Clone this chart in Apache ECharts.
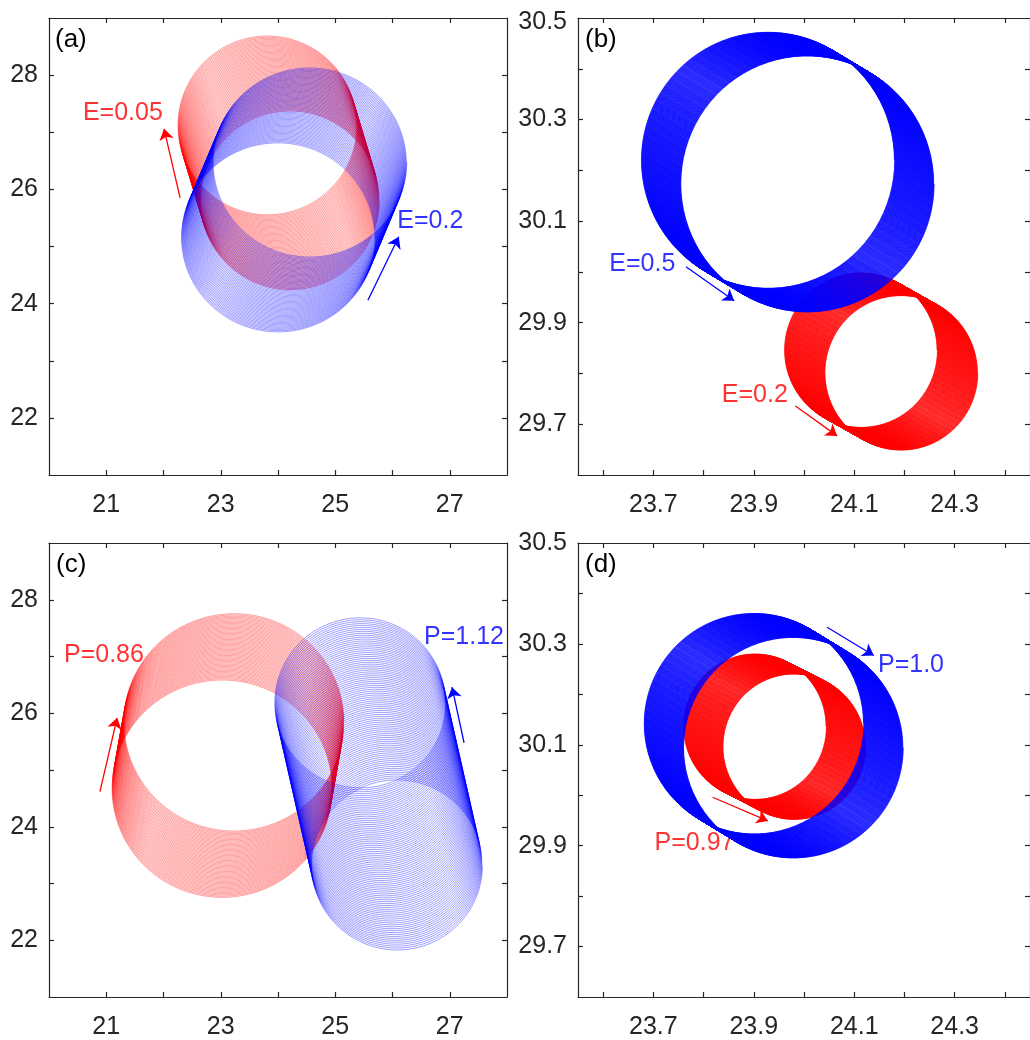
<!DOCTYPE html>
<html><head><meta charset="utf-8">
<script src="https://cdn.jsdelivr.net/npm/echarts@6/dist/echarts.min.js"></script>
<style>html,body{margin:0;padding:0;background:#fff}#c{width:1030px;height:1040px}</style>
</head><body><div id="c"></div>
<script>
// ---------- axis ranges / ticks / labels ----------
const xRangeAC = [20, 28], yRangeAC = [21, 29];
const xRangeBD = [23.55, 24.45], yRangeBD = [29.6, 30.5];
const xTicksAC = [21, 22, 23, 24, 25, 26, 27];
const xLabelsAC = [21, 23, 25, 27];
const yTicksAC = [22, 23, 24, 25, 26, 27, 28];
const yLabelsAC = [22, 24, 26, 28];
const xTicksBD = [23.6, 23.7, 23.8, 23.9, 24.0, 24.1, 24.2, 24.3, 24.4];
const xLabelsBD = [23.7, 23.9, 24.1, 24.3];
const yTicksBD = [29.7, 29.8, 29.9, 30.0, 30.1, 30.2, 30.3, 30.4];
const yLabelsBD = [29.7, 29.9, 30.1, 30.3, 30.5];
const panelTags = ['(a)', '(b)', '(c)', '(d)'];

// ---------- drifting-orbit read values: [first loop centre], [last loop centre], [x radius, y radius], loop count ----------
const aRedStart = [23.81, 27.13], aRedEnd = [24.21, 25.80], aRedRadius = [1.56, 1.56], aRedLoops = 65;
const aBlueStart = [24.00, 25.15], aBlueEnd = [24.56, 26.48], aBlueRadius = [1.69, 1.66], aBlueLoops = 65;
const bBlueStart = [23.928, 30.220], bBlueEnd = [24.007, 30.173], bBlueRadius = [0.252, 0.252], bBlueLoops = 110;
const bRedStart = [24.113, 29.846], bRedEnd = [24.194, 29.801], bRedRadius = [0.152, 0.152], bRedLoops = 110;
const cRedStart = [23.23, 25.85], cRedEnd = [23.02, 24.66], cRedRadius = [1.92, 1.91], cRedLoops = 55;
const cBlueStart = [25.43, 26.20], cBlueEnd = [26.08, 23.31], cBlueRadius = [1.49, 1.49], cBlueLoops = 85;
const dBlueStart = [23.900, 30.142], dBlueEnd = [23.979, 30.094], dBlueRadius = [0.2185, 0.2185], dBlueLoops = 110;
const dRedStart = [23.902, 30.136], dRedEnd = [23.981, 30.096], dRedRadius = [0.142, 0.144], dRedLoops = 110;

// ---------- annotation texts and arrows ----------
const labelTexts = [['E=0.05', 'E=0.2'], ['E=0.5', 'E=0.2'], ['P=0.86', 'P=1.12'], ['P=1.0', 'P=0.97']];
const labelColors = [['red', 'blue'], ['blue', 'red'], ['red', 'blue'], ['blue', 'red']];
const labelPos = [[[21.29, 27.34], [26.66, 25.45]], [[23.678, 30.016], [23.902, 29.757]],
                  [[20.96, 27.02], [27.25, 27.35]], [[24.213, 30.258], [23.782, 29.905]]];
const arrowRed = [[[22.29, 25.85], [22.01, 27.06]], [[23.983, 29.736], [24.066, 29.677]],
                  [[20.89, 24.62], [21.19, 25.92]], [[23.818, 29.996], [23.928, 29.949]]];
const arrowBlue = [[[25.57, 24.06], [26.11, 25.17]], [[23.765, 30.010], [23.861, 29.943]],
                   [[27.25, 25.48], [27.04, 26.46]], [[24.046, 30.333], [24.139, 30.277]]];

const FONT = '"Liberation Sans", Arial, Helvetica, sans-serif';
const AX = '#262626';
const RED = '#ff0000', BLUE = '#0000ff';

function orbitPath(start, end, radius, loops) {
  const perLoop = 90, total = loops * perLoop, pts = [];
  for (let k = 0; k <= total; k++) {
    const s = k / total, th = 2 * Math.PI * k / perLoop;
    pts.push([start[0] + (end[0] - start[0]) * s + radius[0] * Math.cos(th),
              start[1] + (end[1] - start[1]) * s + radius[1] * Math.sin(th)]);
  }
  return pts;
}

const grids = [
  { left: 49, top: 18, width: 458, height: 457 },
  { left: 578, top: 18, width: 457, height: 457 },
  { left: 49, top: 543, width: 458, height: 457 },
  { left: 578, top: 543, width: 457, height: 457 }
];

function mkAxis(g, pos, range, ticks, labels, showLab, dec, margin, shiftTop) {
  return {
    type: 'value', gridIndex: g, position: pos, min: range[0], max: range[1],
    axisLine: { show: true, onZero: false, lineStyle: { color: AX, width: 1.2 } },
    axisTick: { show: true, inside: true, length: 5, customValues: ticks, lineStyle: { color: AX, width: 1.2 } },
    axisLabel: { show: showLab, customValues: labels, margin: margin, color: AX, fontSize: 25, fontFamily: FONT,
                 formatter: v => (shiftTop && Math.abs(v - range[1]) < 1e-9) ? '{t|' + Number(v).toFixed(dec) + '}' : Number(v).toFixed(dec),
                 rich: { t: { fontSize: 25, fontFamily: FONT, color: AX, padding: [8, 0, 0, 0] } } },
    splitLine: { show: false }
  };
}

const xAxes = [], yAxes = [];
grids.forEach((gr, i) => {
  const ac = (i === 0 || i === 2);
  const xr = ac ? xRangeAC : xRangeBD, yr = ac ? yRangeAC : yRangeBD;
  const xt = ac ? xTicksAC : xTicksBD, yt = ac ? yTicksAC : yTicksBD;
  const xl = ac ? xLabelsAC : xLabelsBD, yl = ac ? yLabelsAC : yLabelsBD;
  const dec = ac ? 0 : 1;
  xAxes.push(mkAxis(i, 'bottom', xr, xt, xl, true, dec, 18, false));
  xAxes.push(mkAxis(i, 'top', xr, xt, xl, false, dec, 18, false));
  yAxes.push(mkAxis(i, 'left', yr, yt, yl, true, dec, 11, i === 1));
  yAxes.push(mkAxis(i, 'right', yr, yt, yl, false, dec, 11, false));
});

const orbitSets = [
  [[aRedStart, aRedEnd, aRedRadius, aRedLoops, RED], [aBlueStart, aBlueEnd, aBlueRadius, aBlueLoops, BLUE]],
  [[bRedStart, bRedEnd, bRedRadius, bRedLoops, RED], [bBlueStart, bBlueEnd, bBlueRadius, bBlueLoops, BLUE]],
  [[cRedStart, cRedEnd, cRedRadius, cRedLoops, RED], [cBlueStart, cBlueEnd, cBlueRadius, cBlueLoops, BLUE]],
  [[dRedStart, dRedEnd, dRedRadius, dRedLoops, RED], [dBlueStart, dBlueEnd, dBlueRadius, dBlueLoops, BLUE]]
];

const series = [];
orbitSets.forEach((set, i) => {
  const light = (i === 0 || i === 2);
  set.forEach(o => {
    series.push({
      type: 'line', xAxisIndex: 2 * i, yAxisIndex: 2 * i, data: orbitPath(o[0], o[1], o[2], o[3]),
      showSymbol: false, symbol: 'none', silent: true, animation: false, clip: true,
      lineStyle: { color: o[4], width: light ? 0.5 : 0.8, opacity: light ? 0.75 : 0.9 }
    });
  });
  series.push({
    type: 'lines', coordinateSystem: 'cartesian2d', xAxisIndex: 2 * i, yAxisIndex: 2 * i,
    silent: true, animation: false, symbol: ['none', 'arrow'], symbolSize: 11,
    data: [
      { coords: arrowRed[i], lineStyle: { color: RED, width: 1.3 }, itemStyle: { color: RED } },
      { coords: arrowBlue[i], lineStyle: { color: BLUE, width: 1.3 }, itemStyle: { color: BLUE } }
    ],
    lineStyle: { opacity: 1, curveness: 0 }
  });
  series.push({
    type: 'scatter', xAxisIndex: 2 * i, yAxisIndex: 2 * i, symbolSize: 0, silent: true, animation: false,
    data: labelTexts[i].map((t, j) => ({
      name: t, value: labelPos[i][j],
      label: { show: true, position: 'inside', formatter: '{b}', color: labelColors[i][j] === 'red' ? RED : BLUE,
               fontSize: 25, fontFamily: FONT }
    }))
  });
});

const tagPos = [[55, 27], [585, 27], [56, 552], [585, 552]];
const graphic = panelTags.map((t, i) => ({
  type: 'text', left: tagPos[i][0], top: tagPos[i][1], silent: true,
  style: { text: t, fill: '#000', font: '26px ' + FONT }
}));

const chart = echarts.init(document.getElementById('c'), null, { renderer: 'canvas' });
chart.setOption({
  animation: false, backgroundColor: '#fff',
  grid: grids, xAxis: xAxes, yAxis: yAxes, series: series, graphic: graphic
});
</script></body></html>
